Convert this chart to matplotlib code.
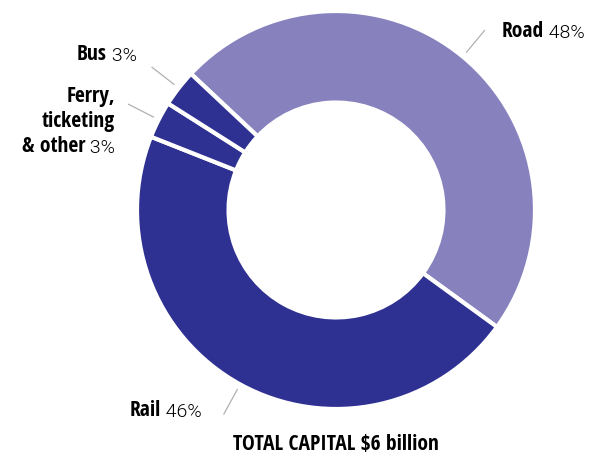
import numpy as np
import matplotlib.pyplot as plt
from matplotlib.font_manager import FontProperties

labels_bold = ["Road", "Rail", "Ferry,\nticketing\n& other", "Bus"]
shares = [48, 46, 3, 3]
colors = ["#8782BE", "#2E3192", "#2E3192", "#2E3192"]
title = "TOTAL CAPITAL $6 billion"

W, H = 603, 457
cx, cy, R = 336, H - 210, 199
BOLD = FontProperties(family="Open Sans Condensed", weight="bold", size=15.5)
REG = FontProperties(family="Roboto", weight=300, size=14)

fig = plt.figure(figsize=(W / 100, H / 100), dpi=100)
ax = fig.add_axes([0, 0, 1, 1])

wedges, _ = ax.pie(shares, colors=colors, startangle=136.8, counterclock=False,
                   center=(cx, cy), radius=R,
                   wedgeprops=dict(width=R * 0.46, edgecolor="white", linewidth=3))
ax.set_xlim(0, W)
ax.set_ylim(0, H)
ax.set_aspect("equal")
ax.axis("off")

# anchor x, baseline y of last line (pixels from top), alignment
label_pos = [(502, 37, "left"), (202, 417, "right"), (115, 153, "right"), (137, 61, "right")]

for w, share, name, (tx, ty, ha) in zip(wedges, shares, labels_bold, label_pos):
    mid = np.deg2rad((w.theta1 + w.theta2) / 2)
    r0, r1 = R * 1.03, R * 1.17
    ax.plot([cx + r0 * np.cos(mid), cx + r1 * np.cos(mid)],
            [cy + r0 * np.sin(mid), cy + r1 * np.sin(mid)],
            color="#B0B0B0", lw=0.9)
    lines = name.split("\n")
    n = len(lines)
    lh = 25.5
    for i, ln in enumerate(lines):
        y = H - ty + (n - 1 - i) * lh
        last = i == n - 1
        if ha == "left":
            t = ax.text(tx, y, ln, ha="left", va="baseline", fontproperties=BOLD)
            if last:
                ax.annotate(f" {share}%", xy=(1, 0), xycoords=t, ha="left", va="bottom",
                            fontproperties=REG)
        else:
            if last:
                t = ax.text(tx, y, f" {share}%", ha="right", va="baseline", fontproperties=REG)
                ax.annotate(ln, xy=(0, 0), xycoords=t, ha="right", va="bottom",
                            fontproperties=BOLD)
            else:
                ax.text(tx, y, ln, ha="right", va="baseline", fontproperties=BOLD)

ax.text(cx, H - 450, title, ha="center", va="baseline", fontproperties=BOLD)

fig.savefig("out.png", dpi=100)
